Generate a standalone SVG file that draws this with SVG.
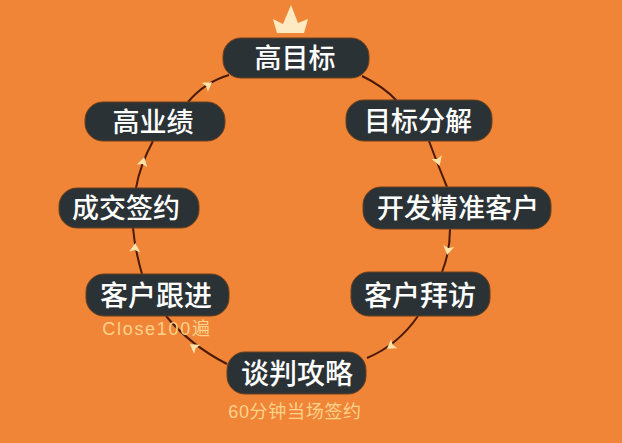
<svg xmlns="http://www.w3.org/2000/svg" width="622" height="443" viewBox="0 0 622 443">
<defs><path id="ah" d="M5 0L-4 -5.5L-2 0L-4 5.5Z" fill="#fde2a8"/></defs>
<style>
.n{fill:#2b3236;stroke:#6b3f1c;stroke-width:1}
.t{font-family:"Noto Sans CJK SC","Noto Sans",sans-serif;font-size:27px;font-weight:500;fill:#fff;text-anchor:middle}
.b{font-size:28px}
.s{font-family:"Liberation Sans","Noto Sans CJK SC",sans-serif;font-size:18px;fill:#fdd28a;text-anchor:middle;letter-spacing:.7px}
.w{letter-spacing:1.7px}
.c{fill:none;stroke:#4a1a06;stroke-width:2}
</style>
<rect width="622" height="443" fill="#f08538"/>
<g id="connectors">
<path class="c" d="M362 76Q383 86 397 101"/>
<path class="c" d="M429 141Q436 160 447 187"/>
<path class="c" d="M450 229Q450 252 442 272"/>
<path class="c" d="M418 316Q398 345 367 358"/>
<path class="c" d="M227 364Q190 345 166 316"/>
<path class="c" d="M142 274Q135 250 133 228"/>
<path class="c" d="M136 188Q140 165 153 141"/>
<path class="c" d="M188 102Q205 82 229 75"/>
<use href="#ah" transform="translate(438 161) rotate(70)"/>
<use href="#ah" transform="translate(448 250) rotate(100)"/>
<use href="#ah" transform="translate(391 346) rotate(145)"/>
<use href="#ah" transform="translate(194 347) rotate(215)"/>
<use href="#ah" transform="translate(135 248) rotate(275)"/>
<use href="#ah" transform="translate(143 162) rotate(285)"/>
<use href="#ah" transform="translate(208 85) rotate(325)"/>
</g>
<g id="crown"><path d="M273 19L283 24L291 5L298 23L308 19L304 33L277 33Z" fill="#fdeac2"/></g>
<g id="n1"><rect class="n" x="223" y="38" width="146" height="40" rx="18"/><text class="t" x="295" y="68">高目标</text></g>
<g id="n2"><rect class="n" x="346" y="100" width="146" height="41" rx="18"/><text class="t" x="418" y="131">目标分解</text></g>
<g id="n3"><rect class="n" x="363" y="187" width="188" height="42" rx="18"/><text class="t" x="458" y="218">开发精准客户</text></g>
<g id="n4"><rect class="n" x="351" y="272" width="139" height="44" rx="18"/><text class="t b" x="420" y="306">客户拜访</text></g>
<g id="n5"><rect class="n" x="227" y="352" width="139" height="42" rx="18"/><text class="t b" x="297" y="384">谈判攻略</text></g>
<g id="n6"><rect class="n" x="86" y="274" width="143" height="42" rx="18"/><text class="t b" x="156" y="306">客户跟进</text></g>
<g id="n7"><rect class="n" x="59" y="188" width="140" height="40" rx="18"/><text class="t" x="126" y="218">成交签约</text></g>
<g id="n8"><rect class="n" x="85" y="102" width="140" height="39" rx="18"/><text class="t" x="153" y="132">高业绩</text></g>
<text class="s w" x="157" y="335">Close100遍</text>
<text class="s" x="295" y="418">60分钟当场签约</text>
</svg>
